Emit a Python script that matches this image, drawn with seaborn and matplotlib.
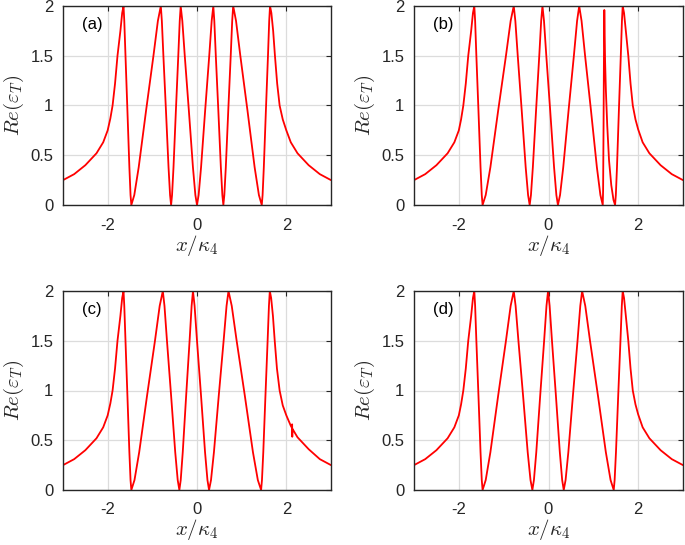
import matplotlib
matplotlib.use('Agg')
import matplotlib.pyplot as plt
import seaborn as sns

# ---------------- data ----------------
panel_labels = ['(a)', '(b)', '(c)', '(d)']
x_ticks = [-2, 0, 2]
y_ticks = [0, 0.5, 1, 1.5, 2]
y_tick_labels = ['0', '0.5', '1', '1.5', '2']

a_x = [-3.0, -2.75, -2.5, -2.25, -2.1, -2.0, -1.94, -1.89, -1.835, -1.78, -1.715, -1.675, -1.645,
       -1.628, -1.601, -1.558, -1.514, -1.488, -1.47,
       -1.404, -1.305, -1.14, -0.975, -0.876, -0.81,
       -0.787, -0.7525, -0.695, -0.6375, -0.603, -0.58,
       -0.5585, -0.526, -0.4725, -0.419, -0.3865, -0.365,
       -0.3285, -0.274, -0.1825, -0.091, -0.0365, 0.0,
       0.0365, 0.091, 0.1825, 0.274, 0.3285, 0.365,
       0.3875, 0.421, 0.4775, 0.534, 0.5675, 0.59,
       0.612, 0.645, 0.70, 0.755, 0.788, 0.81,
       0.874, 0.97, 1.13, 1.29, 1.386, 1.45,
       1.4685, 1.496, 1.5425, 1.589, 1.6165, 1.635,
       1.665, 1.705, 1.745, 1.795, 1.85, 1.92, 2.0, 2.1, 2.25, 2.5, 2.75, 3.0]
a_y = [0.25, 0.31, 0.40, 0.52, 0.63, 0.75, 0.87, 1.0, 1.22, 1.5, 1.75, 1.93, 2.0,
       1.85, 1.5, 0.95, 0.38, 0.10, 0.0,
       0.10, 0.38, 0.95, 1.5, 1.85, 2.0,
       1.85, 1.5, 0.95, 0.38, 0.10, 0.0,
       0.10, 0.38, 0.95, 1.5, 1.85, 2.0,
       1.85, 1.5, 0.95, 0.38, 0.10, 0.0,
       0.10, 0.38, 0.95, 1.5, 1.85, 2.0,
       1.85, 1.5, 0.95, 0.38, 0.10, 0.0,
       0.10, 0.38, 0.95, 1.5, 1.85, 2.0,
       1.85, 1.5, 0.95, 0.38, 0.10, 0.0,
       0.10, 0.38, 0.95, 1.5, 1.85, 2.0,
       1.93, 1.75, 1.5, 1.22, 1.0, 0.86, 0.75, 0.63, 0.52, 0.40, 0.31, 0.25]

b_x = [-3.0, -2.75, -2.5, -2.25, -2.1, -2.0, -1.95, -1.90, -1.845, -1.79, -1.725, -1.685, -1.655,
       -1.6365, -1.609, -1.5625, -1.516, -1.4885, -1.47,
       -1.4005, -1.296, -1.1225, -0.949, -0.8445, -0.775,
       -0.7395, -0.686, -0.5975, -0.509, -0.4555, -0.42,
       -0.3915, -0.349, -0.2775, -0.206, -0.1635, -0.135,
       -0.1005, -0.049, 0.0375, 0.124, 0.1755, 0.21,
       0.2575, 0.329, 0.4475, 0.566, 0.6375, 0.685,
       0.7375, 0.816, 0.9475, 1.079, 1.1575, 1.21,
       1.218, 1.228, 1.238, 1.245,
       1.252, 1.262, 1.28, 1.31, 1.35, 1.40, 1.45, 1.485,
       1.502, 1.5275, 1.57, 1.6125, 1.638, 1.655,
       1.685, 1.725, 1.78, 1.83, 1.88, 1.94, 2.0, 2.1, 2.25, 2.5, 2.75, 3.0]
b_y = [0.25, 0.31, 0.40, 0.52, 0.63, 0.75, 0.86, 1.0, 1.22, 1.5, 1.75, 1.93, 2.0,
       1.85, 1.5, 0.95, 0.38, 0.10, 0.0,
       0.10, 0.38, 0.95, 1.5, 1.85, 2.0,
       1.85, 1.5, 0.95, 0.38, 0.10, 0.0,
       0.10, 0.38, 0.95, 1.5, 1.85, 2.0,
       1.85, 1.5, 0.95, 0.38, 0.10, 0.0,
       0.10, 0.38, 0.95, 1.5, 1.85, 2.0,
       1.85, 1.5, 0.95, 0.38, 0.10, 0.0,
       0.15, 0.8, 1.6, 1.96,
       1.75, 1.45, 1.15, 0.8, 0.45, 0.2, 0.05, 0.0,
       0.10, 0.38, 0.95, 1.5, 1.85, 2.0,
       1.93, 1.75, 1.5, 1.22, 1.0, 0.86, 0.76, 0.63, 0.52, 0.40, 0.31, 0.25]

c_x = [-3.0, -2.75, -2.5, -2.25, -2.1, -2.0, -1.94, -1.89, -1.835, -1.78, -1.715, -1.675, -1.645,
       -1.628, -1.601, -1.558, -1.514, -1.488, -1.47,
       -1.3995, -1.294, -1.1175, -0.941, -0.8355, -0.765,
       -0.728, -0.6725, -0.58, -0.4875, -0.432, -0.395,
       -0.3645, -0.319, -0.2425, -0.166, -0.1205, -0.09,
       -0.054, 0.0, 0.09, 0.18, 0.234, 0.27,
       0.3135, 0.379, 0.4875, 0.596, 0.6615, 0.705,
       0.778, 0.8875, 1.07, 1.2525, 1.362, 1.435,
       1.4545, 1.484, 1.5325, 1.581, 1.6105, 1.63,
       1.66, 1.70, 1.74, 1.79, 1.85, 1.92, 2.0, 2.1, 2.125, 2.13, 2.133, 2.137,
       2.25, 2.5, 2.75, 3.0]
c_y = [0.25, 0.31, 0.40, 0.52, 0.63, 0.75, 0.87, 1.0, 1.22, 1.5, 1.75, 1.93, 2.0,
       1.85, 1.5, 0.95, 0.38, 0.10, 0.0,
       0.10, 0.38, 0.95, 1.5, 1.85, 2.0,
       1.85, 1.5, 0.95, 0.38, 0.10, 0.0,
       0.10, 0.38, 0.95, 1.5, 1.85, 2.0,
       1.85, 1.5, 0.95, 0.38, 0.10, 0.0,
       0.10, 0.38, 0.95, 1.5, 1.85, 2.0,
       1.85, 1.5, 0.95, 0.38, 0.10, 0.0,
       0.10, 0.38, 0.95, 1.5, 1.85, 2.0,
       1.93, 1.75, 1.5, 1.22, 1.0, 0.85, 0.75, 0.645, 0.625, 0.66, 0.535, 0.615,
       0.53, 0.41, 0.31, 0.25]

d_x = [-3.0, -2.75, -2.5, -2.25, -2.1, -2.0, -1.95, -1.90, -1.845, -1.79, -1.725, -1.685, -1.655,
       -1.6365, -1.609, -1.5625, -1.516, -1.4885, -1.47,
       -1.4005, -1.296, -1.1225, -0.949, -0.8445, -0.775,
       -0.7335, -0.671, -0.5675, -0.464, -0.4015, -0.36,
       -0.325, -0.2725, -0.185, -0.0975, -0.045, -0.01,
       0.025, 0.0775, 0.165, 0.2525, 0.305, 0.34,
       0.381, 0.4425, 0.545, 0.6475, 0.709, 0.75,
       0.8205, 0.926, 1.1025, 1.279, 1.3845, 1.455,
       1.475, 1.505, 1.555, 1.605, 1.635, 1.655,
       1.685, 1.725, 1.78, 1.83, 1.88, 1.94, 2.0, 2.1, 2.25, 2.5, 2.75, 3.0]
d_y = [0.25, 0.31, 0.40, 0.52, 0.63, 0.75, 0.86, 1.0, 1.22, 1.5, 1.75, 1.93, 2.0,
       1.85, 1.5, 0.95, 0.38, 0.10, 0.0,
       0.10, 0.38, 0.95, 1.5, 1.85, 2.0,
       1.85, 1.5, 0.95, 0.38, 0.10, 0.0,
       0.10, 0.38, 0.95, 1.5, 1.85, 2.0,
       1.85, 1.5, 0.95, 0.38, 0.10, 0.0,
       0.10, 0.38, 0.95, 1.5, 1.85, 2.0,
       1.85, 1.5, 0.95, 0.38, 0.10, 0.0,
       0.10, 0.38, 0.95, 1.5, 1.85, 2.0,
       1.93, 1.75, 1.5, 1.22, 1.0, 0.86, 0.76, 0.63, 0.52, 0.40, 0.31, 0.25]

# ---------------- styling ----------------
sns.set_theme(style='white')
plt.rcParams['font.family'] = ['Liberation Sans', 'DejaVu Sans']
plt.rcParams['mathtext.fontset'] = 'cm'
plt.rcParams['axes.unicode_minus'] = False

W, H = 685, 545
fig = plt.figure(figsize=(W / 100, H / 100), dpi=100)
fig.patch.set_facecolor('white')

# axes boxes in pixels: left, top, right, bottom
boxes = [(63, 6, 331, 205), (414, 6, 683, 205), (63, 291, 331, 490), (414, 291, 683, 490)]
series = [(a_x, a_y), (b_x, b_y), (c_x, c_y), (d_x, d_y)]
dark = '#262626'

for (l, t, r, b), (xs, ys), lab in zip(boxes, series, panel_labels):
    ax = fig.add_axes([l / W, 1 - b / H, (r - l) / W, (b - t) / H])
    sns.lineplot(x=xs, y=ys, ax=ax, color='#ff0000', linewidth=1.3,
                 sort=False, estimator=None)
    ax.set_xlim(-3, 3)
    ax.set_ylim(0, 2)
    ax.set_xticks(x_ticks)
    ax.set_yticks(y_ticks)
    ax.set_yticklabels(y_tick_labels)
    ax.grid(True, color='#dcdcdc', linewidth=0.9)
    ax.set_axisbelow(True)
    ax.tick_params(direction='in', length=3.5, width=0.8, top=True, right=True,
                   labelsize=12, colors=dark)
    ax.tick_params(axis='x', pad=9)
    ax.tick_params(axis='y', pad=7)
    for sp in ax.spines.values():
        sp.set_color(dark)
        sp.set_linewidth(1.0)
    ax.set_xlabel(r'$x/\kappa_4$', fontsize=15, color=dark, labelpad=0)
    ax.set_ylabel(r'$Re(\varepsilon_T)$', fontsize=15, color=dark, labelpad=3)
    ax.text(-2.57, 1.81, lab, fontsize=12, color='black', va='center', ha='left')

fig.savefig('out.png', dpi=100, facecolor='white')
